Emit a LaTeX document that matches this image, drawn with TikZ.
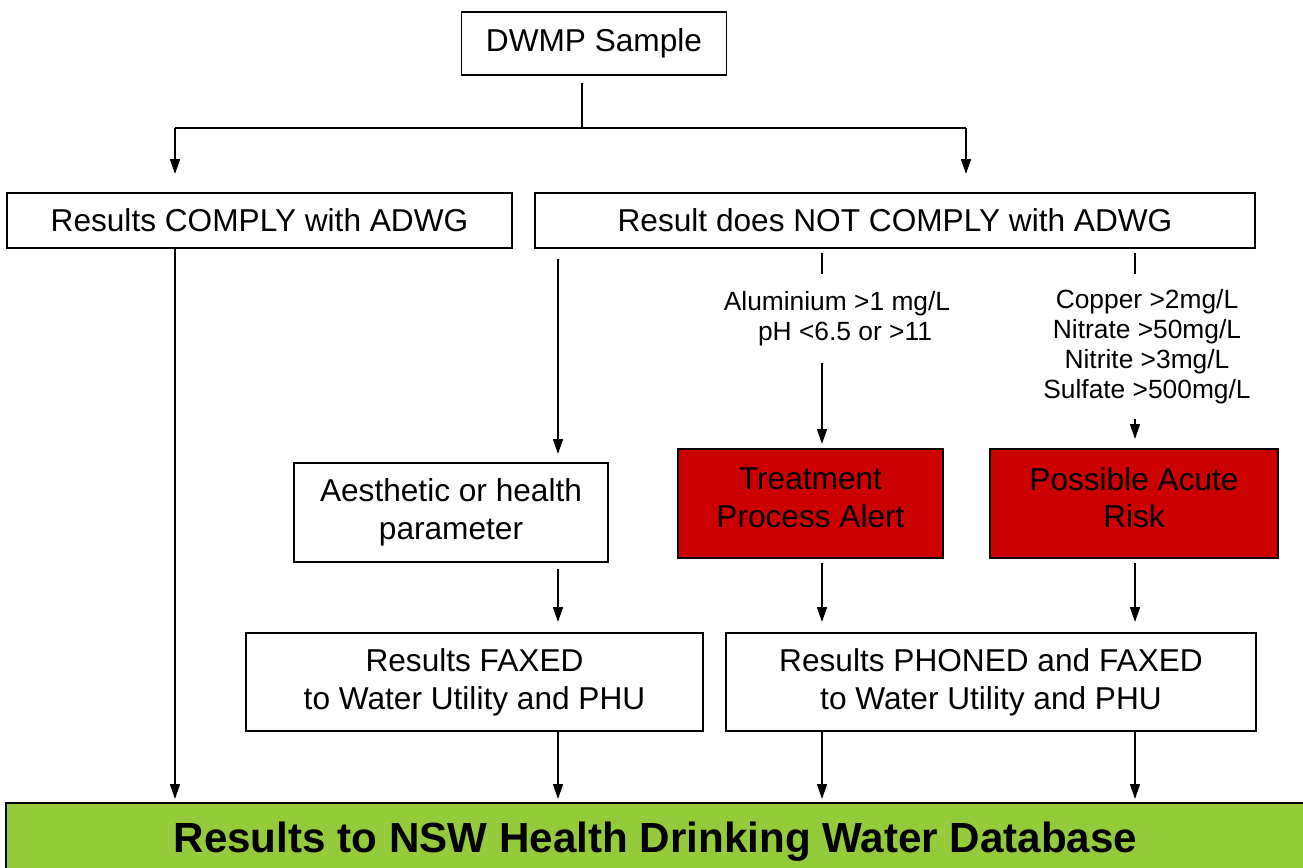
\documentclass[tikz,border=0pt]{standalone}
\usepackage{fontspec}
\setmainfont{Liberation Sans}
\usepackage{xcolor}
\usetikzlibrary{arrows.meta,positioning}

\definecolor{alertred}{RGB}{204,0,0}
\definecolor{dbgreen}{RGB}{148,203,58}

\begin{document}
\begin{tikzpicture}[x=0.02cm, y=-0.02cm,
                    >={Triangle[length=8.5pt,width=5.6pt]},
                    line width=1pt,
                    box/.style={draw, line width=1.1pt, align=center, inner sep=0pt,
                                font=\fontsize{18}{21.5}\selectfont},
                    alert/.style={box, fill=alertred, text depth=0.24cm},
                    limits/.style={align=center, inner sep=0pt,
                                   font=\fontsize{15}{17}\selectfont}]
    %\draw[help lines] (0,0) grid (1303,867);
    \useasboundingbox (0,0) rectangle (1303,867);
    \clip (0,0) rectangle (1303,867);

   % columns of the connectors
   \coordinate (col_comply) at (175,0);
   \coordinate (col_aes) at (558,0);
   \coordinate (col_treat) at (822,0);
   \coordinate (col_acute) at (1135,0);
   \coordinate (split) at (582,128);
   \coordinate (split_left) at (175,128);
   \coordinate (split_right) at (966,128);

   \node[box, minimum width=5.3cm, minimum height=1.26cm] (sample) at (594,43.5) {DWMP Sample};
   \node[box, minimum width=10.1cm, minimum height=1.1cm] (comply) at (259.5,220.5) {Results COMPLY with ADWG};
   \node[box, minimum width=14.4cm, minimum height=1.1cm] (not_comply) at (895,220.5) {Result does NOT COMPLY with ADWG};

   \node[limits, minimum height=1.74cm] (alu_limits) at (837,318.5) {Aluminium >1 mg/L\\ \hspace*{0.32cm}pH <6.5 or >11};
   \node[limits, minimum height=2.86cm] (cu_limits) at (1147,346.5) {Copper >2mg/L\\Nitrate >50mg/L\\Nitrite >3mg/L\\Sulfate >500mg/L};

   \node[box, minimum width=6.28cm, minimum height=1.98cm] (aesthetic) at (451,512.5) {Aesthetic or health\\parameter};
   \node[alert, minimum width=5.3cm, minimum height=2.18cm] (treatment) at (810.5,503.5) {Treatment\\Process Alert};
   \node[alert, minimum width=5.76cm, minimum height=2.18cm] (acute) at (1134,503.5) {Possible Acute\\Risk};

   \node[box, minimum width=9.14cm, minimum height=1.96cm] (faxed) at (474.5,682) {Results FAXED\\to Water Utility and PHU};
   \node[box, minimum width=10.6cm, minimum height=1.96cm] (phoned) at (991,682) {Results PHONED and FAXED\\to Water Utility and PHU};

   \node[box, fill=dbgreen, minimum width=25.98cm, minimum height=1.54cm,
         font=\fontsize{24}{28}\selectfont\bfseries] (database) at (655.5,841.5) {Results to NSW Health Drinking Water Database};

   % Define connectors
   \draw[shorten <=0.14cm] (sample.south -| split) -- (split);
   \draw (split_left) -- (split_right);
   \draw[shorten <=0.08cm] (col_treat |- not_comply.south) -- (col_treat |- alu_limits.north);
   \draw[shorten <=0.08cm] (col_acute |- not_comply.south) -- (col_acute |- cu_limits.north);

   \path[->]
    (split_left)                  edge [shorten >=0.36cm]                 (col_comply |- comply.north)
    (split_right)                 edge [shorten >=0.36cm]                 (split_right |- not_comply.north)
    (col_comply |- comply.south)  edge [shorten >=0.06cm]                 (col_comply |- database.north)
    (col_aes |- not_comply.south) edge [shorten <=0.2cm, shorten >=0.16cm] (col_aes |- aesthetic.north)
    (col_treat |- alu_limits.south) edge [shorten >=0.08cm]               (col_treat |- treatment.north)
    (col_acute |- cu_limits.south)  edge [shorten >=0.18cm]               (col_acute |- acute.north)
    (col_aes |- aesthetic.south)  edge [shorten <=0.12cm, shorten >=0.2cm] (col_aes |- faxed.north)
    (col_treat |- treatment.south) edge [shorten <=0.08cm, shorten >=0.2cm] (col_treat |- phoned.north)
    (col_acute |- acute.south)    edge [shorten <=0.08cm, shorten >=0.2cm] (col_acute |- phoned.north)
    (col_aes |- faxed.south)      edge [shorten >=0.06cm]                 (col_aes |- database.north)
    (col_treat |- phoned.south)   edge [shorten >=0.06cm]                 (col_treat |- database.north)
    (col_acute |- phoned.south)   edge [shorten >=0.06cm]                 (col_acute |- database.north);

\end{tikzpicture}
\end{document}
